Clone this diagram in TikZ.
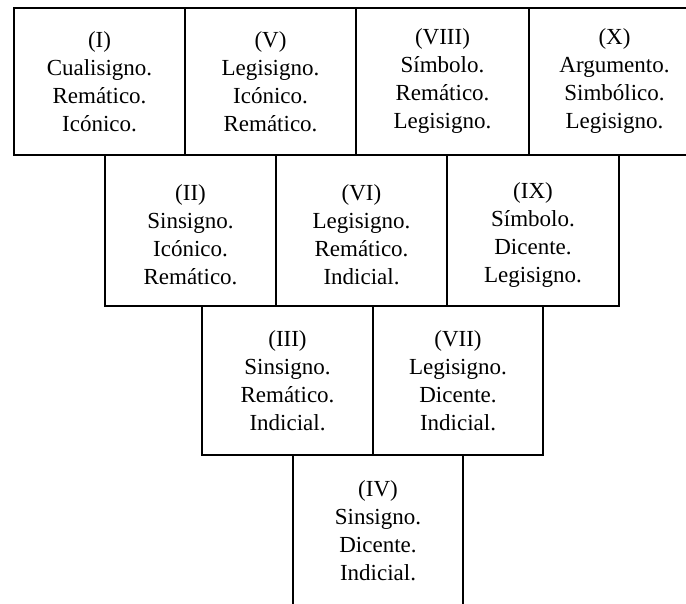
\documentclass[tikz,border=0pt]{standalone}
\usepackage{fontspec}
\setmainfont{Liberation Serif}
\newcommand{\lowerstrut}{\rule{0pt}{24pt}}
\begin{document}
\begin{tikzpicture}[x=1pt,y=-1pt,
  cell/.style={draw, line width=1.8pt, inner sep=0pt, align=center,
    font=\fontsize{23}{28}\selectfont},
  row1/.style={cell, minimum height=147pt},
  row2/.style={cell, minimum height=151pt},
  row3/.style={cell, minimum height=149pt},
  row4/.style={cell, minimum height=152pt}]
\useasboundingbox (0,0) rectangle (686,604);
\clip (0,0) rectangle (686,604);
% row 1
\node[row1, minimum width=171pt] (b1) at (99.5,81.5) {(I)\\Cualisigno.\\Remático.\\Icónico.};
\node[row1, minimum width=171pt] (b5) at (270.5,81.5) {(V)\\Legisigno.\\Icónico.\\Remático.};
\node[row1, minimum width=173pt] (b8) at (442.5,81.5) {(VIII)\\Símbolo.\\Remático.\\Legisigno.};
\node[row1, minimum width=171pt] (b10) at (614.5,81.5) {(X)\\Argumento.\\Simbólico.\\Legisigno.};
% row 2
\node[row2, minimum width=171pt] (b2) at (190.5,230.5) {\lowerstrut(II)\\Sinsigno.\\Icónico.\\Remático.};
\node[row2, minimum width=171pt] (b6) at (361.5,230.5) {\lowerstrut(VI)\\Legisigno.\\Remático.\\Indicial.};
\node[row2, minimum width=172pt] (b9) at (533,230.5) {\lowerstrut(IX)\\Símbolo.\\Dicente.\\Legisigno.};
% row 3
\node[row3, minimum width=171pt] (b3) at (287.5,380.5) {(III)\\Sinsigno.\\Remático.\\Indicial.};
\node[row3, minimum width=170pt] (b7) at (458,380.5) {(VII)\\Legisigno.\\Dicente.\\Indicial.};
% row 4
\node[row4, minimum width=170pt] (b4) at (378,531) {(IV)\\Sinsigno.\\Dicente.\\Indicial.};
\end{tikzpicture}
\end{document}
